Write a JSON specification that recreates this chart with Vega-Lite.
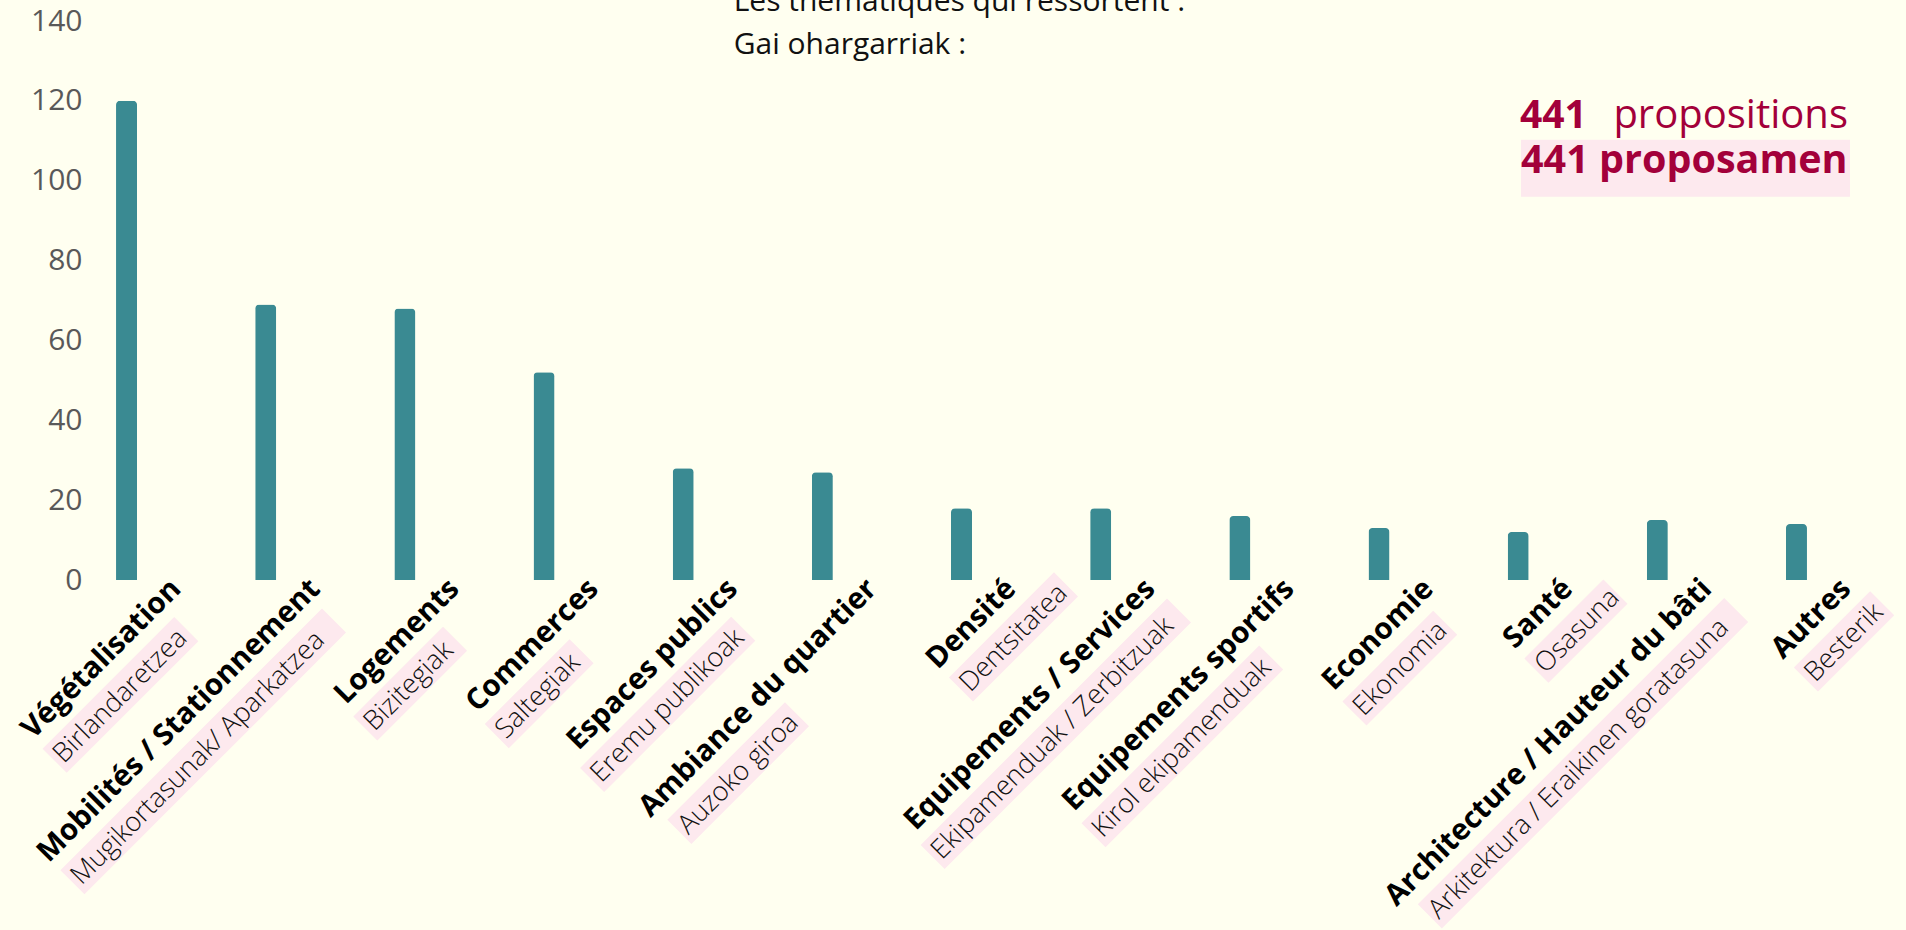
{
  "$schema": "https://vega.github.io/schema/vega-lite/v6.json",
  "width": 1743,
  "height": 559,
  "autosize": {"type": "none"},
  "padding": {"left": 90, "top": 21, "right": 73, "bottom": 350},
  "background": "#FFFFF0",
  "config": {"view": {"stroke": null}, "font": "Open Sans"},
  "data": {
    "values": [
      {"fr": "Végétalisation", "eu": "Birlandaretzea", "n": 120},
      {"fr": "Mobilités / Stationnement", "eu": "Mugikortasunak/ Aparkatzea", "n": 69},
      {"fr": "Logements", "eu": "Bizitegiak", "n": 68},
      {"fr": "Commerces", "eu": "Saltegiak", "n": 52},
      {"fr": "Espaces publics", "eu": "Eremu publikoak", "n": 28},
      {"fr": "Ambiance du quartier", "eu": "Auzoko giroa", "n": 27},
      {"fr": "Densité", "eu": "Dentsitatea", "n": 18},
      {"fr": "Equipements / Services", "eu": "Ekipamenduak / Zerbitzuak", "n": 18},
      {"fr": "Equipements sportifs", "eu": "Kirol ekipamenduak", "n": 16},
      {"fr": "Economie", "eu": "Ekonomia", "n": 13},
      {"fr": "Santé", "eu": "Osasuna", "n": 12},
      {"fr": "Architecture / Hauteur du bâti", "eu": "Arkitektura / Eraikinen goratasuna", "n": 15},
      {"fr": "Autres", "eu": "Besterik", "n": 14}
    ]
  },
  "encoding": {
    "x": {"field": "fr", "type": "nominal", "sort": null, "axis": null,
          "scale": {"paddingInner": 0.849, "paddingOuter": 0.187}}
  },
  "layer": [
    {
      "mark": {
        "type": "rule", "color": "#FDE9EE", "strokeWidth": 34, "strokeCap": "butt",
        "xOffset": {"expr": "0.7071*((32-(29.5*(0.6*length(datum.fr)-0.3*length(replace(datum.fr,regexp('[^ilj]','g'),''))-0.18*length(replace(datum.fr,regexp('[^tfr/]','g'),''))-0.34*length(replace(datum.fr,regexp('[^ ]','g'),''))+0.37*length(replace(datum.fr,regexp('[^mM]','g'),'')))))+77)"},
        "yOffset": {"expr": "0.7071*(77-(32-(29.5*(0.6*length(datum.fr)-0.3*length(replace(datum.fr,regexp('[^ilj]','g'),''))-0.18*length(replace(datum.fr,regexp('[^tfr/]','g'),''))-0.34*length(replace(datum.fr,regexp('[^ ]','g'),''))+0.37*length(replace(datum.fr,regexp('[^mM]','g'),''))))))"},
        "x2Offset": {"expr": "0.7071*((36-(29.5*(0.6*length(datum.fr)-0.3*length(replace(datum.fr,regexp('[^ilj]','g'),''))-0.18*length(replace(datum.fr,regexp('[^tfr/]','g'),''))-0.34*length(replace(datum.fr,regexp('[^ ]','g'),''))+0.37*length(replace(datum.fr,regexp('[^mM]','g'),''))))+(27*(0.57*length(datum.eu)-0.317*length(replace(datum.eu,regexp('[^ilj]','g'),''))-0.2*length(replace(datum.eu,regexp('[^tfr/]','g'),''))-0.31*length(replace(datum.eu,regexp('[^ ]','g'),''))+0.36*length(replace(datum.eu,regexp('[^mM]','g'),'')))))+77)"},
        "y2Offset": {"expr": "0.7071*(77-(36-(29.5*(0.6*length(datum.fr)-0.3*length(replace(datum.fr,regexp('[^ilj]','g'),''))-0.18*length(replace(datum.fr,regexp('[^tfr/]','g'),''))-0.34*length(replace(datum.fr,regexp('[^ ]','g'),''))+0.37*length(replace(datum.fr,regexp('[^mM]','g'),''))))+(27*(0.57*length(datum.eu)-0.317*length(replace(datum.eu,regexp('[^ilj]','g'),''))-0.2*length(replace(datum.eu,regexp('[^tfr/]','g'),''))-0.31*length(replace(datum.eu,regexp('[^ ]','g'),''))+0.36*length(replace(datum.eu,regexp('[^mM]','g'),''))))))"}
      },
      "encoding": {
        "x2": {"field": "fr"},
        "y": {"datum": 0, "type": "quantitative"},
        "y2": {"datum": 0}
      }
    },
    {
      "mark": {"type": "bar", "color": "#3A8A92", "cornerRadiusTopLeft": 4, "cornerRadiusTopRight": 4},
      "encoding": {
        "y": {"field": "n", "type": "quantitative",
              "scale": {"domain": [0, 140], "nice": false},
              "axis": {"values": [0, 20, 40, 60, 80, 100, 120, 140], "title": null, "grid": false,
                       "domain": false, "ticks": false, "labelPadding": 8,
                       "labelFont": "Open Sans", "labelFontSize": 30, "labelColor": "#595959"}}
      }
    },
    {
      "mark": {"type": "text", "angle": -45, "align": "right", "baseline": "alphabetic",
               "dx": 32, "dy": 47, "font": "Open Sans", "fontWeight": "bold", "fontSize": 29.5, "color": "#000000"},
      "encoding": {
        "y": {"datum": 0, "type": "quantitative"},
        "text": {"field": "fr"}
      }
    },
    {
      "mark": {"type": "text", "angle": -45, "align": "left", "baseline": "alphabetic",
               "dx": {"expr": "36-(29.5*(0.6*length(datum.fr)-0.3*length(replace(datum.fr,regexp('[^ilj]','g'),''))-0.18*length(replace(datum.fr,regexp('[^tfr/]','g'),''))-0.34*length(replace(datum.fr,regexp('[^ ]','g'),''))+0.37*length(replace(datum.fr,regexp('[^mM]','g'),''))))"},
               "dy": 86, "font": "Open Sans", "fontWeight": 300, "fontSize": 27, "color": "#111111"},
      "encoding": {
        "y": {"datum": 0, "type": "quantitative"},
        "text": {"field": "eu"}
      }
    },
    {
      "data": {"values": [{}]},
      "mark": {"type": "rule", "color": "#FDE9EE", "strokeWidth": 57, "strokeCap": "butt",
               "xOffset": -275.5, "x2Offset": 53.5},
      "encoding": {
        "x": {"datum": "Autres"},
        "x2": {"datum": "Autres"},
        "y": {"datum": 103.1, "type": "quantitative"}
      }
    },
    {
      "data": {"values": [{}]},
      "mark": {"type": "text", "align": "left", "baseline": "alphabetic", "dx": -276.5,
               "font": "Open Sans", "fontWeight": "bold", "fontSize": 39, "color": "#A3003A", "text": "441"},
      "encoding": {
        "x": {"datum": "Autres"},
        "y": {"datum": 113.2, "type": "quantitative"}
      }
    },
    {
      "data": {"values": [{}]},
      "mark": {"type": "text", "align": "right", "baseline": "alphabetic", "dx": 51.5,
               "font": "Open Sans", "fontWeight": 400, "fontSize": 40, "color": "#A3003A", "text": "propositions"},
      "encoding": {
        "x": {"datum": "Autres"},
        "y": {"datum": 113.2, "type": "quantitative"}
      }
    },
    {
      "data": {"values": [{}]},
      "mark": {"type": "text", "align": "right", "baseline": "alphabetic", "dx": 51,
               "font": "Open Sans", "fontWeight": "bold", "fontSize": 39.5, "color": "#A3003A", "text": "441 proposamen"},
      "encoding": {
        "x": {"datum": "Autres"},
        "y": {"datum": 102, "type": "quantitative"}
      }
    },
    {
      "data": {"values": [{}]},
      "mark": {"type": "text", "align": "left", "baseline": "alphabetic", "dx": 50.5, "lineHeight": 43,
               "font": "Open Sans", "fontWeight": 400, "fontSize": 30, "color": "#111111",
               "text": ["Les thématiques qui ressortent :", "Gai ohargarriak :"]},
      "encoding": {
        "x": {"datum": "Espaces publics"},
        "y": {"datum": 142.4, "type": "quantitative"}
      }
    }
  ]
}
